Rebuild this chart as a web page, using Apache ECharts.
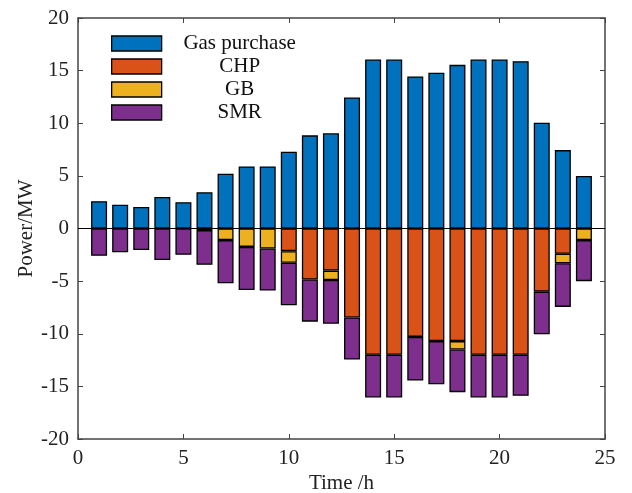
<!DOCTYPE html>
<html>
<head>
<meta charset="utf-8">
<script src="https://cdn.jsdelivr.net/npm/echarts@6/dist/echarts.min.js"></script>
<style>
html,body{margin:0;padding:0;background:#fff;}
#chart{width:632px;height:493px;}
</style>
</head>
<body>
<div id="chart"></div>
<script>
const hours = [1,2,3,4,5,6,7,8,9,10,11,12,13,14,15,16,17,18,19,20,21,22,23,24];
const gasPurchase = [2.6,2.25,2.05,3.0,2.5,3.45,5.2,5.9,5.9,7.3,8.85,9.05,12.45,16.05,16.05,14.45,14.8,15.55,16.05,16.05,15.9,10.05,7.45,5.0];
const chp = [0,0,0,0,0,0.15,0,0,0,2.15,4.85,4.0,8.45,12.0,12.0,10.3,10.7,10.7,12.0,12.0,12.0,6.0,2.4,0];
const gb = [0,0,0,0,0,0,1.1,1.75,1.9,1.1,0,0.9,0,0,0,0,0,0.8,0,0,0,0,0.9,1.1];
const smr = [2.6,2.25,2.05,3.0,2.5,3.3,4.1,4.1,4.0,4.05,4.0,4.15,4.0,4.05,4.05,4.15,4.1,4.05,4.05,4.05,3.9,4.05,4.15,3.9];
const xTicks = {min:0, max:25, interval:5};
const yTicks = {min:-20, max:20, interval:5};

const colors = ['#0072BD','#D95319','#EDB120','#7E2F8E'];
const font = 'Liberation Serif';
const fs = 21;

// hidden category axis slots 0..25 so that slot h sits exactly at x = h
const slots = [];
for (let s = xTicks.min; s <= xTicks.max; s++) slots.push(String(s));
function toSlots(arr, sign){
  return slots.map(s => {
    const i = hours.indexOf(Number(s));
    if (i < 0 || arr[i] === 0) return null;
    return sign * arr[i];
  });
}

const barCommon = {
  type:'bar', stack:'all', barWidth:16, xAxisIndex:2, yAxisIndex:0,
  itemStyle:{borderColor:'#000', borderWidth:1.3},
  emphasis:{disabled:true}
};

const chart = echarts.init(document.getElementById('chart'), null, {renderer:'canvas'});
const axisLabel = {color:'#222', fontFamily:font, fontSize:fs};
const frameLine = {show:true, onZero:false, lineStyle:{color:'#444', width:1.5}};
const inTick = {show:true, inside:true, length:5, lineStyle:{color:'#444'}};
chart.setOption({
  animation:false,
  color:colors,
  grid:{left:78, right:27, top:18, bottom:54, containLabel:false, outerBoundsMode:'none'},
  legend:{
    orient:'vertical', left:111, top:33, padding:0,
    itemWidth:50, itemHeight:15, itemGap:2,
    icon:'rect',
    itemStyle:{borderColor:'#000', borderWidth:1.3},
    formatter:function(n){ return '{t|' + n + '}'; },
    textStyle:{color:'#111', fontFamily:font, fontSize:fs,
      rich:{t:{width:146, lineHeight:21, align:'center', fontFamily:font, fontSize:fs, color:'#111'}}},
    data:['Gas purchase','CHP','GB','SMR']
  },
  xAxis:[
    {type:'value', min:xTicks.min, max:xTicks.max, interval:xTicks.interval, position:'bottom',
     name:'Time /h', nameLocation:'middle', nameGap:34, nameMoveOverlap:false,
     nameTextStyle:{color:'#222', fontFamily:font, fontSize:fs},
     axisLine:frameLine, axisTick:inTick,
     axisLabel:Object.assign({margin:9}, axisLabel),
     splitLine:{show:false}},
    {type:'value', min:xTicks.min, max:xTicks.max, interval:xTicks.interval, position:'top',
     axisLine:frameLine, axisTick:inTick,
     axisLabel:{show:false}, splitLine:{show:false}},
    {type:'category', data:slots, boundaryGap:false, position:'bottom', show:false}
  ],
  yAxis:[
    {type:'value', min:yTicks.min, max:yTicks.max, interval:yTicks.interval, position:'left',
     name:'Power/MW', nameLocation:'middle', nameGap:41, nameMoveOverlap:false,
     nameTextStyle:{color:'#222', fontFamily:font, fontSize:fs},
     axisLine:frameLine, axisTick:inTick,
     axisLabel:Object.assign({margin:9}, axisLabel),
     splitLine:{show:false}},
    {type:'value', min:yTicks.min, max:yTicks.max, interval:yTicks.interval, position:'right',
     axisLine:frameLine, axisTick:inTick,
     axisLabel:{show:false}, splitLine:{show:false}}
  ],
  series:[
    Object.assign({name:'Gas purchase', data:toSlots(gasPurchase, 1),
      markLine:{silent:true, symbol:'none', label:{show:false},
        lineStyle:{color:'#000', width:1, type:'solid'}, data:[{yAxis:0}]}}, barCommon),
    Object.assign({name:'CHP', data:toSlots(chp, -1)}, barCommon),
    Object.assign({name:'GB', data:toSlots(gb, -1)}, barCommon),
    Object.assign({name:'SMR', data:toSlots(smr, -1)}, barCommon)
  ]
});
</script>
</body>
</html>
